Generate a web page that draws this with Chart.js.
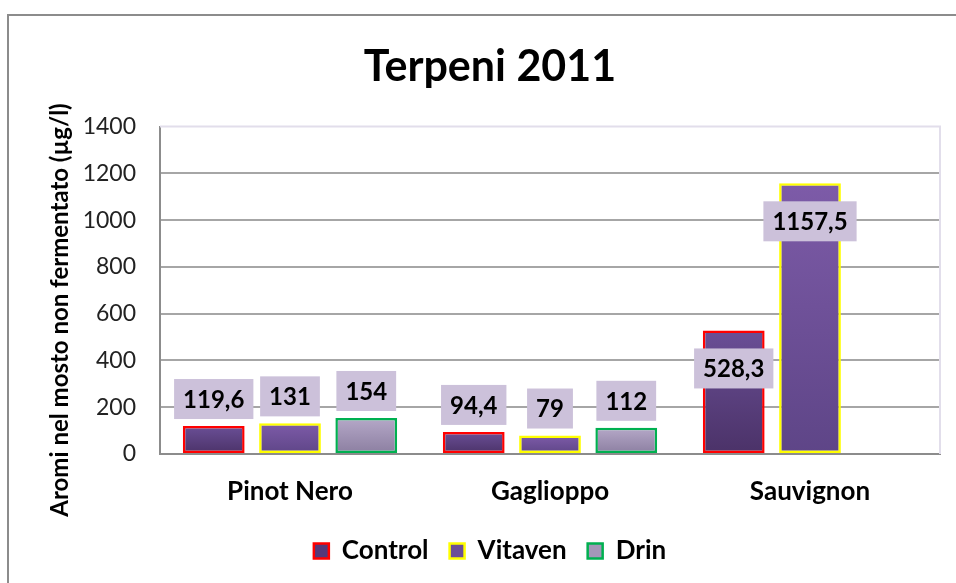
<!DOCTYPE html>
<html>
<head>
<meta charset="utf-8">
<script src="https://cdn.jsdelivr.net/npm/chart.js@4"></script>
<style>
  html, body { margin: 0; padding: 0; background: #fff; }
  #wrap { width: 956px; height: 583px; }
</style>
</head>
<body>
<div id="wrap"><canvas id="chart" width="956" height="583"></canvas></div>
<script>
// --- dati ---
const categories = ["Pinot Nero", "Gaglioppo", "Sauvignon"];
const control = [119.6, 94.4, 528.3];
const vitaven = [131, 79, 1157.5];
const drin = [154, 112, null];
const yTicks = [0, 200, 400, 600, 800, 1000, 1200, 1400];
const yTitle = "Aromi nel mosto non fermentato (µg/l)";

const FONT = "Lato, 'Open Sans', sans-serif";

// gradiente per ogni barra (dall'alto verso il basso)
function barGradient(top, bottom) {
  return function (ctx) {
    const chart = ctx.chart;
    const y = chart.scales && chart.scales.y;
    if (ctx.raw === undefined || ctx.raw === null || !y || !chart.chartArea) return bottom;
    const g = chart.ctx.createLinearGradient(0, y.getPixelForValue(ctx.raw), 0, y.getPixelForValue(0));
    g.addColorStop(0, top);
    g.addColorStop(1, bottom);
    return g;
  };
}

// cornice esterna + titolo asse y
const frame = {
  id: "frame",
  beforeDraw(chart) {
    const c = chart.ctx;
    c.save();
    c.fillStyle = "#fff";
    c.fillRect(0, 0, chart.width, chart.height);
    c.strokeStyle = "#8c8c8c";
    c.lineWidth = 2;
    c.strokeRect(8, 15, chart.width + 20, chart.height + 20);
    // titolo asse verticale
    c.translate(60, 310);
    c.rotate(-Math.PI / 2);
    c.font = "bold 24px " + FONT;
    c.fillStyle = "#000";
    c.textAlign = "center";
    c.textBaseline = "middle";
    c.fillText(yTitle, 0, 0);
    c.restore();
  },
  // bordo chiaro in alto e a destra dell'area del grafico
  beforeDatasetsDraw(chart) {
    const a = chart.chartArea, c = chart.ctx;
    c.save();
    c.strokeStyle = "#e2deeb";
    c.lineWidth = 2;
    c.beginPath();
    c.moveTo(a.left, a.top);
    c.lineTo(a.right, a.top);
    c.lineTo(a.right, a.bottom);
    c.stroke();
    c.restore();
  }
};

// etichette con sfondo lilla
const valueLabels = {
  id: "valueLabels",
  afterDatasetsDraw(chart) {
    const c = chart.ctx;
    c.save();
    c.font = "bold 24px " + FONT;
    c.textAlign = "center";
    c.textBaseline = "middle";
    chart.data.datasets.forEach((ds, i) => {
      const meta = chart.getDatasetMeta(i);
      meta.data.forEach((bar, j) => {
        const v = ds.data[j];
        if (v === null || v === undefined) return;
        const txt = String(v).replace(".", ",");
        const w = c.measureText(txt).width + 18;
        const h = 40;
        const hBar = bar.base - bar.y;
        const cy = hBar > 80 ? bar.y + 38 : bar.y - 27;
        c.fillStyle = "#ccc1da";
        c.fillRect(bar.x - w / 2, cy - h / 2, w, h);
        c.fillStyle = "#000";
        c.fillText(txt, bar.x, cy + 1);
      });
    });
    c.restore();
  }
};

new Chart(document.getElementById("chart"), {
  type: "bar",
  data: {
    labels: categories,
    datasets: [
      { label: "Control", data: control,
        backgroundColor: barGradient("#6a4f96", "#4b3268"),
        borderColor: "#ff0000", borderWidth: 2.5, borderSkipped: false },
      { label: "Vitaven", data: vitaven,
        backgroundColor: barGradient("#7d5ba8", "#5e4587"),
        borderColor: "#ffff00", borderWidth: 2.5, borderSkipped: false },
      { label: "Drin", data: drin,
        backgroundColor: barGradient("#b5a8c8", "#8b7ea0"),
        borderColor: "#00b050", borderWidth: 2.5, borderSkipped: false },
    ],
  },
  options: {
    responsive: false,
    animation: false,
    categoryPercentage: 0.88,
    barPercentage: 0.81,
    layout: { padding: { left: 40, right: 16, top: 15, bottom: 9 } },
    plugins: {
      title: {
        display: true, text: "Terpeni 2011", color: "#000",
        font: { family: FONT, size: 43, weight: "bold" },
        padding: { top: 26, bottom: 34 },
      },
      legend: {
        position: "bottom",
        labels: {
          color: "#000",
          font: { family: FONT, size: 26, weight: "bold" },
          boxWidth: 15, boxHeight: 15, padding: 21,
          generateLabels(chart) {
            const fills = ["#55397a", "#6c4f98", "#a497b8"];
            return chart.data.datasets.map((ds, i) => ({
              text: ds.label, fillStyle: fills[i], strokeStyle: ds.borderColor,
              lineWidth: 2.5, datasetIndex: i, fontColor: "#000",
            }));
          },
        },
      },
      tooltip: { enabled: false },
    },
    scales: {
      x: {
        afterFit(scale) { scale.height = 63; },
        grid: { display: false, drawTicks: false },
        border: { color: "#8c8c8c", width: 2 },
        ticks: { color: "#000", padding: 22, font: { family: FONT, size: 26, weight: "bold" } },
      },
      y: {
        min: 0, max: 1400,
        afterBuildTicks(scale) { scale.ticks = yTicks.map(v => ({ value: v })); },
        afterFit(scale) { scale.width = 120; },
        grid: {
          color: ctx => (ctx.tick && ctx.tick.value === 1400 ? "rgba(0,0,0,0)" : "#a6a6a6"),
          lineWidth: 2, drawTicks: false,
        },
        border: { color: "#8c8c8c", width: 2 },
        ticks: {
          color: "#222", padding: 24, font: { family: FONT, size: 23 },
          callback: v => String(v),
        },
      },
    },
  },
  plugins: [frame, valueLabels],
});
</script>
</body>
</html>
